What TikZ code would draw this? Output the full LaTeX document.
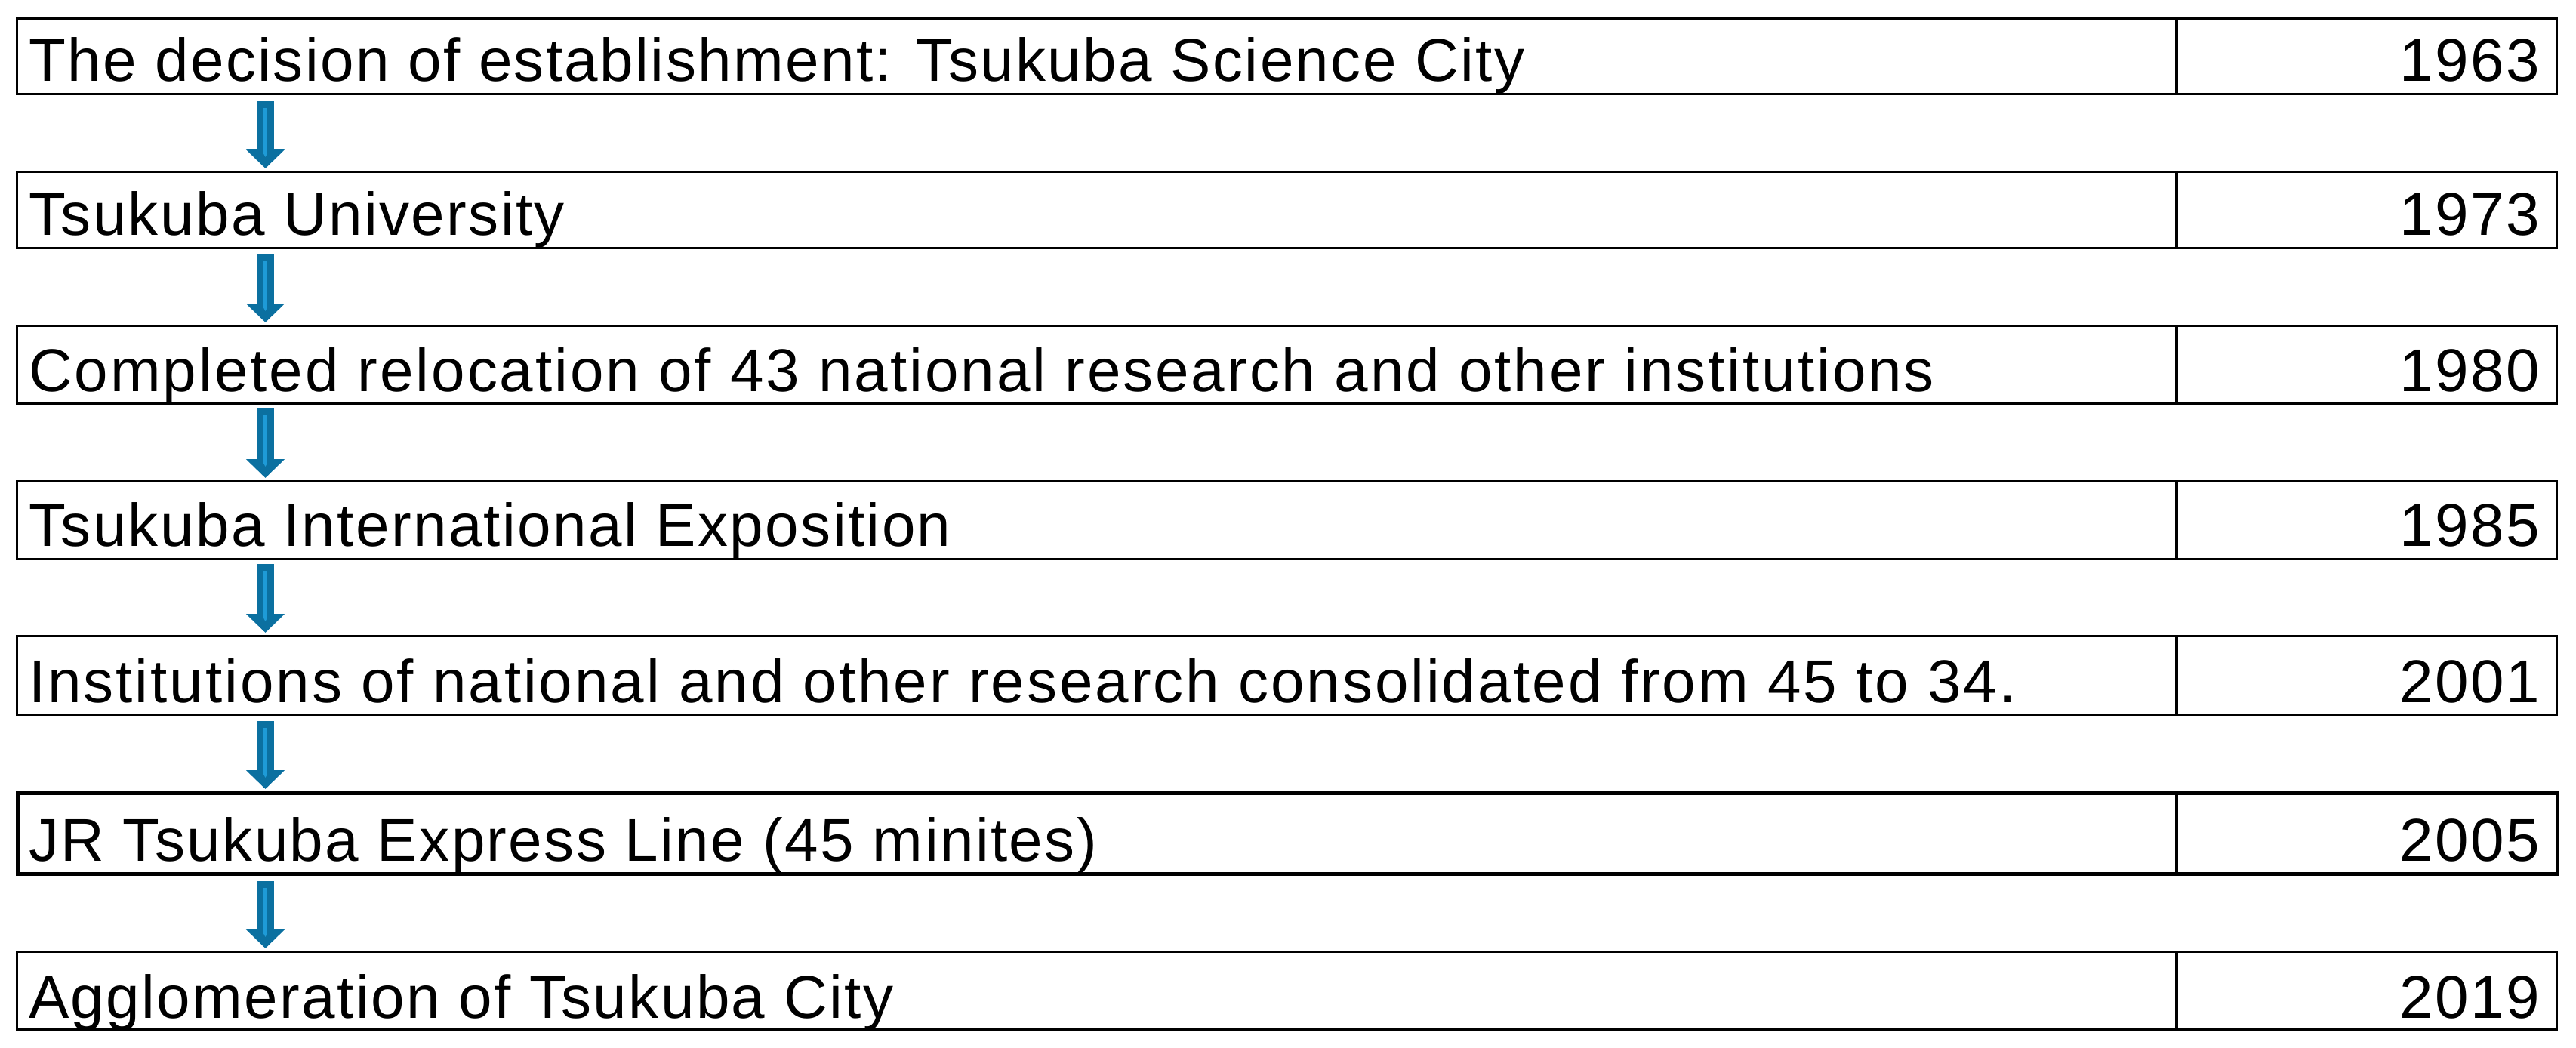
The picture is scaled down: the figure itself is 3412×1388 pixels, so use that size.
\documentclass[tikz,border=0pt]{standalone}
\usepackage{fontspec}
\setmainfont[LetterSpace=3]{Liberation Sans}
\newfontfamily\widerfont[LetterSpace=3.7]{Liberation Sans}
\usetikzlibrary{arrows.meta,calc}
\definecolor{arrdark}{HTML}{0B70A0}
\definecolor{arrlight}{HTML}{1E9BD7}
\begin{document}
\begin{tikzpicture}[x=1pt,y=-1pt,
  rowbox/.style={draw=black,line width=3.3pt,rectangle,inner sep=0pt,anchor=north west,minimum width=3364pt},
  thickrow/.style={line width=5pt},
  lbl/.style={anchor=base west,inner sep=0pt,font=\fontsize{80}{96}\selectfont},
  widelbl/.style={lbl,font=\widerfont\fontsize{80}{96}\selectfont},
  yr/.style={anchor=base east,inner sep=0pt,font=\fontsize{80}{96}\selectfont},
  divider/.style={draw=black,line width=3.3pt},
  arrout/.style={draw=arrdark,line width=23pt,-{Triangle[width=50pt,length=25pt]}},
  arrin/.style={draw=arrlight,line width=5pt,-{Triangle[width=5pt,length=5pt]}}]
\useasboundingbox (0,0) rectangle (3412,1388);
\fill[white] (0,0) rectangle (3412,1388);
% rows
\node[rowbox,minimum height=100pt] (r1) at (21,23) {};
\node[rowbox,minimum height=101pt] (r2) at (21,226) {};
\node[rowbox,minimum height=103pt] (r3) at (21,430) {};
\node[rowbox,minimum height=103pt] (r4) at (21,636) {};
\node[rowbox,minimum height=104pt] (r5) at (21,841) {};
\node[rowbox,thickrow,minimum height=107pt] (r6) at (21,1048) {};
\node[rowbox,minimum height=103pt] (r7) at (21,1259) {};
% dividers
\foreach \r in {1,2,3,4,5,7}{
  \draw[divider] ($(r\r.north west)+(2862,0)$) -- ($(r\r.south west)+(2862,0)$);
}
\draw[divider,line width=4pt] ($(r6.north west)+(2862,0)$) -- ($(r6.south west)+(2862,0)$);
% texts
\node[lbl] (t1) at (38,108) {The decision of establishment: Tsukuba Science City};
\node[lbl] (t2) at (38,312) {Tsukuba University};
\node[widelbl] (t3) at (38,518) {Completed relocation of 43 national research and other institutions};
\node[lbl] (t4) at (38,723) {Tsukuba International Exposition};
\node[widelbl] (t5) at (38,930) {Institutions of national and other research consolidated from 45 to 34.};
\node[lbl] (t6) at (38,1140) {JR Tsukuba Express Line (45 minites)};
\node[lbl] (t7) at (38,1348) {Agglomeration of Tsukuba City};
\node[yr] (y1) at (3364,108) {1963};
\node[yr] (y2) at (3364,312) {1973};
\node[yr] (y3) at (3364,518) {1980};
\node[yr] (y4) at (3364,723) {1985};
\node[yr] (y5) at (3364,930) {2001};
\node[yr] (y6) at (3364,1140) {2005};
\node[yr] (y7) at (3364,1348) {2019};
% arrows
\foreach \a/\b/\s in {1/2/8,2/3/7,3/4/5,4/5/5,5/6/7,6/7/7}{
  \coordinate (s\a) at ($(r\a.south west)+(330.5,\s)$);
  \coordinate (e\a) at ($(r\b.north west)+(330.5,-3)$);
  \draw[arrout] (s\a) -- (e\a);
  \draw[arrin] ($(s\a)+(0,9)$) -- ($(e\a)+(0,-15)$);
}
\end{tikzpicture}
\end{document}
